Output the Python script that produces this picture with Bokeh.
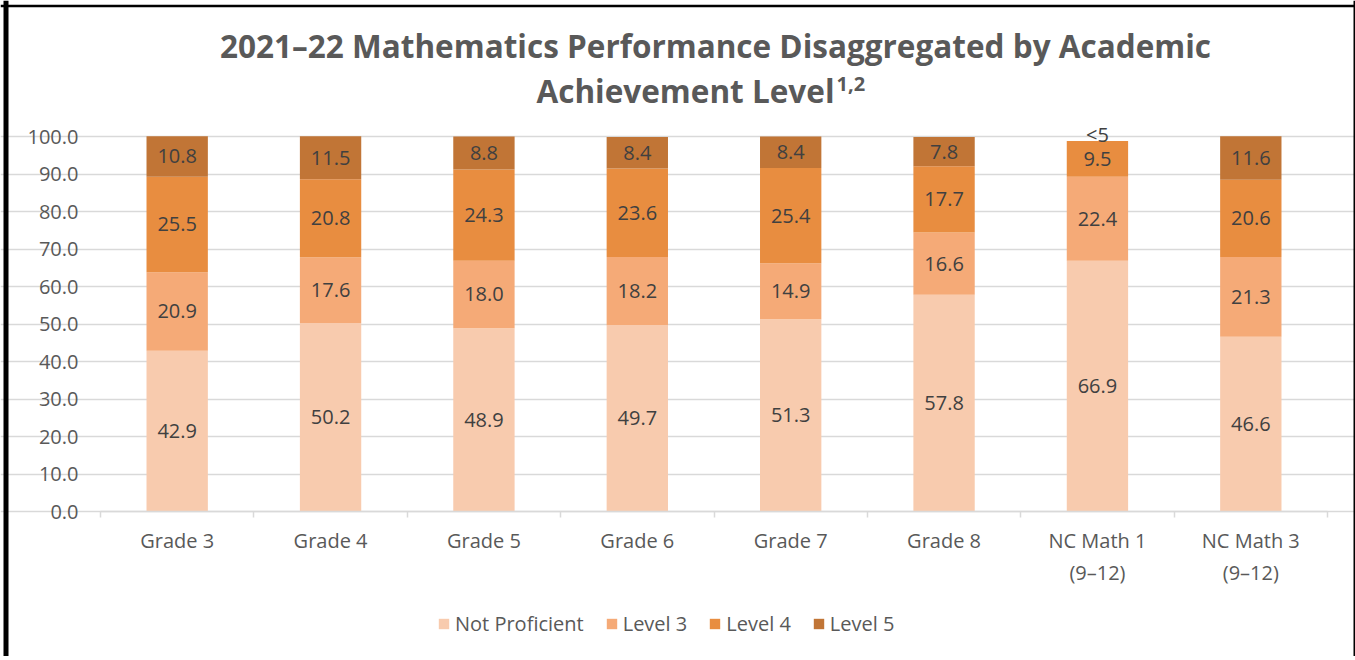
import numpy as np
from bokeh.plotting import figure
from bokeh.models import (ColumnDataSource, Range1d, FixedTicker, Label, Legend,
                          CustomJSTickFormatter, Span)
from bokeh.core.properties import value
from bokeh.embed import file_html
from bokeh.resources import INLINE

categories = ["Grade 3", "Grade 4", "Grade 5", "Grade 6", "Grade 7", "Grade 8",
              "NC Math 1\n(9–12)", "NC Math 3\n(9–12)"]
not_proficient = [42.9, 50.2, 48.9, 49.7, 51.3, 57.8, 66.9, 46.6]
level3 = [20.9, 17.6, 18.0, 18.2, 14.9, 16.6, 22.4, 21.3]
level4 = [25.5, 20.8, 24.3, 23.6, 25.4, 17.7, 9.5, 20.6]
level5 = [10.8, 11.5, 8.8, 8.4, 8.4, 7.8, None, 11.6]   # None = suppressed (<5)
series_names = ["Not Proficient", "Level 3", "Level 4", "Level 5"]
colors = ["#F8CBAE", "#F5AA77", "#E88D40", "#C17536"]
y_ticks = [0, 10, 20, 30, 40, 50, 60, 70, 80, 90, 100]

FONT = "Open Sans"
GRAY = "#595959"
DARK = "#404040"

W, H = 1355, 656
n = len(categories)
x = np.arange(n) + 0.5
l5 = np.array([v if v is not None else 0.0 for v in level5])
source = ColumnDataSource(dict(x=x, np_=np.array(not_proficient), l3=np.array(level3),
                               l4=np.array(level4), l5=l5))

# frame covers the whole canvas; axes are pinned inside it
px_x = 1227 / n        # pixels per category
px_y = 3.75            # pixels per percentage point
x_range = Range1d(-100 / px_x, n + (W - 1327) / px_x)
y_range = Range1d(-(H - 511) / px_y, 100 + 136 / px_y)

p = figure(width=W, height=H, output_backend="svg", toolbar_location=None,
           x_range=x_range, y_range=y_range,
           min_border_left=0, min_border_right=0, min_border_top=0,
           min_border_bottom=0)
p.background_fill_color = "white"
p.border_fill_color = "white"
p.outline_line_color = None

renderers = p.vbar_stack(["np_", "l3", "l4", "l5"], x="x", width=0.4, color=colors,
                         line_color=None, source=source)

# data labels
stack = np.vstack([not_proficient, level3, level4, l5])
cum = np.cumsum(stack, axis=0)
mids = cum - stack / 2
lx, ly, lt = [], [], []
for s in range(4):
    for i in range(n):
        if s == 3 and level5[i] is None:
            continue
        lx.append(x[i]); ly.append(mids[s, i]); lt.append(f"{stack[s, i]:.1f}")
p.text(x=lx, y=ly, text=lt, text_align="center", text_baseline="middle",
       text_font=value(FONT), text_font_size="20px", text_color=DARK)
sx = [x[i] for i in range(n) if level5[i] is None]
sy = [cum[3, i] for i in range(n) if level5[i] is None]
p.text(x=sx, y=sy, text=["<5"] * len(sx), text_align="center", text_baseline="bottom",
       y_offset=7, text_font=value(FONT), text_font_size="20px", text_color=DARK)

# axes
p.yaxis.fixed_location = 0
p.yaxis.bounds = (0, 100)
p.yaxis.ticker = FixedTicker(ticks=y_ticks)
p.yaxis.formatter = CustomJSTickFormatter(code="return tick.toFixed(1);")
p.yaxis.axis_line_color = None
p.yaxis.major_tick_line_color = None
p.yaxis.minor_tick_line_color = None
p.yaxis.major_tick_out = 0
p.yaxis.major_tick_in = 0
p.yaxis.major_label_standoff = 22
p.yaxis.major_label_text_font = FONT
p.yaxis.major_label_text_font_size = "20px"
p.yaxis.major_label_text_color = GRAY

p.xaxis.fixed_location = 0
p.xaxis.bounds = (0, n)
p.xaxis.ticker = FixedTicker(ticks=list(x), minor_ticks=list(range(n + 1)))
p.xaxis.major_label_overrides = {float(xx): c for xx, c in zip(x, categories)}
p.xaxis.axis_line_color = "#D9D9D9"
p.xaxis.axis_line_width = 1.5
p.xaxis.major_tick_line_color = None
p.xaxis.major_tick_out = 6
p.xaxis.major_tick_in = 0
p.xaxis.minor_tick_line_color = "#D9D9D9"
p.xaxis.minor_tick_line_width = 1.5
p.xaxis.minor_tick_out = 6
p.xaxis.minor_tick_in = 0
p.xaxis.major_label_standoff = 9
p.xaxis.major_label_text_font = FONT
p.xaxis.major_label_text_font_size = "20px"
p.xaxis.major_label_text_color = GRAY

p.xgrid.grid_line_color = None
p.ygrid.ticker = FixedTicker(ticks=y_ticks)
p.ygrid.bounds = (0, n)
p.ygrid.grid_line_color = "#D9D9D9"
p.ygrid.grid_line_width = 1.5

# legend
legend = Legend(items=[(name, [r]) for name, r in zip(series_names, renderers)],
                orientation="horizontal", location=(437, 19),
                label_text_font=FONT, label_text_font_size="20px",
                label_text_color=GRAY, glyph_width=13, glyph_height=13,
                label_standoff=5, spacing=21, border_line_color=None,
                background_fill_alpha=0, margin=0, padding=0)
p.add_layout(legend, "center")

# title (two lines with superscript)
p.add_layout(Label(x=715, y=H - 45, x_units="screen", y_units="screen",
                   text="2021–22 Mathematics Performance Disaggregated by Academic",
                   text_align="center", text_baseline="middle", text_font=FONT,
                   text_font_size="31.5px", text_font_style="bold", text_color=GRAY))
p.add_layout(Label(x=834, y=H - 90, x_units="screen", y_units="screen",
                   text="Achievement Level",
                   text_align="right", text_baseline="middle", text_font=FONT,
                   text_font_size="31.5px", text_font_style="bold", text_color=GRAY))
p.add_layout(Label(x=836, y=H - 83, x_units="screen", y_units="screen",
                   text="1,2",
                   text_align="left", text_baseline="middle", text_font=FONT,
                   text_font_size="20px", text_font_style="bold", text_color=GRAY))

# black frame around the chart (left, top, right edges)
p.add_layout(Span(location=5.5, location_units="screen", dimension="height",
                  line_color="black", line_width=5))
p.add_layout(Span(location=H - 5.5, location_units="screen", dimension="width",
                  line_color="black", line_width=2.5))
p.add_layout(Span(location=W - 1, location_units="screen", dimension="height",
                  line_color="black", line_width=2))

open("out.html", "w").write(file_html(p, INLINE))
